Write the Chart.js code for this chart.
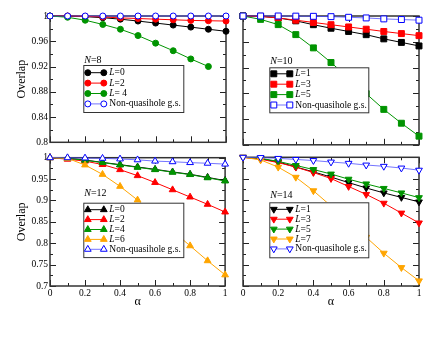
<!DOCTYPE html>
<html>
<head>
<meta charset="utf-8">
<script src="https://cdn.jsdelivr.net/npm/chart.js@4.4.0/dist/chart.umd.min.js"></script>
<style>
    html, body { margin: 0; padding: 0; background: #fff; }
    #wrap { position: relative; width: 436px; height: 337px; }
    #wrap canvas { position: absolute; }
</style>
</head>
<body>
<div id="wrap">
    <canvas id="n8" width="230" height="150" style="left:0;top:0"></canvas>
    <canvas id="n10" width="206" height="150" style="left:230px;top:0"></canvas>
    <canvas id="n12" width="230" height="187" style="left:0;top:150px"></canvas>
    <canvas id="n14" width="206" height="187" style="left:230px;top:150px"></canvas>
</div>
<script>
const alpha = [0, 0.1, 0.2, 0.3, 0.4, 0.5, 0.6, 0.7, 0.8, 0.9, 1];

// N=8
const n8L0 = [1, 0.9998, 0.999, 0.9973, 0.995, 0.992, 0.9888, 0.9856, 0.9824, 0.979, 0.9758];
const n8L2 = [1, 1, 0.9995, 0.9985, 0.997, 0.996, 0.995, 0.994, 0.993, 0.9925, 0.992];
const n8L4 = [1, 0.998, 0.9933, 0.9866, 0.979, 0.969, 0.957, 0.945, 0.932, 0.92];
const n8Gs = [1, 1, 1, 1, 1, 1, 1, 1, 1, 1, 1];
const labels8 = ['L=0', 'L=2', 'L= 4', 'Non-quasihole g.s.'];

// N=10
const n10L1 = [1, 0.9995, 0.997, 0.9925, 0.9865, 0.981, 0.976, 0.971, 0.9645, 0.959, 0.9535];
const n10L3 = [1, 0.9993, 0.997, 0.9935, 0.99, 0.9865, 0.983, 0.9795, 0.976, 0.9727, 0.9695];
const n10L5 = [1, 0.9948, 0.9866, 0.9711, 0.9505, 0.9278, 0.9036, 0.8794, 0.855, 0.8335, 0.8134];
const n10Gs = [1, 1, 1, 0.9998, 0.9995, 0.999, 0.998, 0.997, 0.9955, 0.9945, 0.9935];
const labels10 = ['L=1', 'L=3', 'L=5', 'Non-quasihole g.s.'];

// N=12
const n12L0 = [1, 0.9988, 0.9945, 0.989, 0.9838, 0.9783, 0.9728, 0.9668, 0.9612, 0.954, 0.9465];
const n12L2 = [1, 0.9965, 0.992, 0.984, 0.972, 0.958, 0.942, 0.925, 0.908, 0.891, 0.873];
const n12L4 = [1, 0.9985, 0.994, 0.9885, 0.983, 0.9775, 0.972, 0.966, 0.9605, 0.953, 0.9455];
const n12L6 = [1, 0.9985, 0.983, 0.961, 0.933, 0.901, 0.866, 0.829, 0.794, 0.759, 0.726];
const n12Gs = [1, 0.9999, 0.9992, 0.9985, 0.997, 0.995, 0.992, 0.9905, 0.9885, 0.987, 0.985];
const labels12 = ['L=0', 'L=2', 'L=4', 'L=6', 'Non-quasihole g.s.'];

// N=14
const n14L1 = [1, 0.997, 0.989, 0.9775, 0.966, 0.954, 0.941, 0.9285, 0.917, 0.9065, 0.896];
const n14L3 = [1, 0.9955, 0.9876, 0.977, 0.9645, 0.9505, 0.932, 0.9135, 0.893, 0.87, 0.847];
const n14L5 = [1, 0.9975, 0.9905, 0.981, 0.9715, 0.961, 0.949, 0.938, 0.9275, 0.917, 0.906];
const n14L7 = [1, 0.994, 0.977, 0.9535, 0.922, 0.8865, 0.85, 0.8135, 0.7765, 0.743, 0.712];
const n14Gs = [1, 0.9995, 0.9975, 0.995, 0.9925, 0.989, 0.986, 0.982, 0.979, 0.975, 0.97];
const labels14 = ['L=1', 'L=3', 'L=5', 'L=7', 'Non-quasihole g.s.'];

const FONT = '"Liberation Serif", "Times New Roman", serif';
Chart.defaults.font.family = FONT;
Chart.defaults.color = '#000';

const BLACK = '#000000', RED = '#ff0000', GREEN = '#009400', ORANGE = '#ffa500', BLUE = '#0000ff';

const fmt = v => String(+Number(v).toFixed(3));

// marker shapes per panel
const shapes = {
    circle: { pointStyle: 'circle', r: 3, rot: 0 },
    square: { pointStyle: 'rect', r: 4.2, rot: 0 },
    up: { pointStyle: 'triangle', r: 3.9, rot: 0 },
    down: { pointStyle: 'triangle', r: 3.9, rot: 180 }
};

function series(label, values, color, shape, open, i) {
    const s = shapes[shape];
    return {
        label: label,
        data: values.map((v, k) => ({ x: alpha[k], y: v })),
        borderColor: open ? 'rgba(70,70,255,0.75)' : color,
        borderWidth: 1,
        pointStyle: s.pointStyle,
        pointRotation: s.rot,
        pointRadius: s.r,
        pointHoverRadius: s.r,
        pointBorderWidth: 1,
        pointBackgroundColor: open ? '#ffffff' : color,
        pointBorderColor: color,
        tension: 0,
        clip: false,
        order: -i
    };
}

// box frame with inward major / minor ticks on all four sides
const frameTicks = {
    id: 'frameTicks',
    beforeDatasetsDraw(chart) {
        const { ctx, chartArea: a, scales } = chart;
        ctx.save();
        ctx.strokeStyle = '#222';
        ctx.lineWidth = 1;
        const marks = (scale) => {
            const vals = scale.ticks.map(t => t.value);
            const out = vals.map(v => ({ v: v, len: 6 }));
            for (let k = 0; k < vals.length - 1; k++) {
                out.push({ v: (vals[k] + vals[k + 1]) / 2, len: 3 });
            }
            return out;
        };
        ctx.beginPath();
        marks(scales.x).forEach(m => {
            const px = Math.round(scales.x.getPixelForValue(m.v)) + 0.5;
            ctx.moveTo(px, a.bottom); ctx.lineTo(px, a.bottom - m.len);
            ctx.moveTo(px, a.top); ctx.lineTo(px, a.top + m.len);
        });
        marks(scales.y).forEach(m => {
            const py = Math.round(scales.y.getPixelForValue(m.v)) + 0.5;
            ctx.moveTo(a.left, py); ctx.lineTo(a.left + m.len, py);
            ctx.moveTo(a.right, py); ctx.lineTo(a.right - m.len, py);
        });
        ctx.stroke();
        ctx.lineWidth = 1.5;
        ctx.strokeStyle = '#333';
        ctx.strokeRect(a.left, a.top, a.right - a.left, a.bottom - a.top);
        ctx.restore();
    }
};

// boxed legend with the N= caption above it
const boxLegend = {
    id: 'boxLegend',
    afterDatasetsDraw(chart, args, o) {
        const { ctx, chartArea: a } = chart;
        const bx = a.left + o.dx, by = a.top + o.dy;
        ctx.save();
        ctx.textBaseline = 'middle';
        ctx.textAlign = 'left';
        ctx.fillStyle = '#000';
        ctx.font = 'italic 10px ' + FONT;
        ctx.fillText('N', bx + 1, by + o.nDy);
        const nw = ctx.measureText('N').width;
        ctx.font = '10px ' + FONT;
        ctx.fillText('=' + o.n, bx + 1 + nw, by + o.nDy);

        ctx.fillStyle = '#fff';
        ctx.fillRect(bx, by, o.w, o.h);
        ctx.strokeStyle = '#333';
        ctx.lineWidth = 1;
        ctx.strokeRect(bx + 0.5, by + 0.5, o.w, o.h);

        chart.data.datasets.forEach((ds, i) => {
            const y = by + o.row0 + i * o.rowH;
            const x1 = bx + 4.5, x2 = bx + 20.5;
            ctx.strokeStyle = ds.borderColor;
            ctx.lineWidth = 1;
            ctx.beginPath(); ctx.moveTo(x1, y); ctx.lineTo(x2, y); ctx.stroke();
            ctx.fillStyle = ds.pointBackgroundColor;
            ctx.strokeStyle = ds.pointBorderColor;
            const ps = { pointStyle: ds.pointStyle, rotation: ds.pointRotation, radius: ds.pointRadius, borderWidth: 1 };
            Chart.helpers.drawPoint(ctx, ps, x1, y);
            Chart.helpers.drawPoint(ctx, ps, x2, y);

            ctx.fillStyle = '#000';
            let tx = bx + 26;
            let text = ds.label;
            if (text.charAt(0) === 'L') {
                ctx.font = 'italic 9.5px ' + FONT;
                ctx.fillText('L', tx, y);
                tx += ctx.measureText('L').width;
                text = text.slice(1);
            }
            ctx.font = '9.5px ' + FONT;
            ctx.fillText(text, tx, y);
        });
        ctx.restore();
    }
};

function makePanel(id, datasets, p) {
    const tickFont = { size: 9.5, family: FONT };
    const titleFont = { size: 12, family: FONT, lineHeight: 1.2 };
    return new Chart(document.getElementById(id), {
        type: 'line',
        data: { datasets: datasets },
        plugins: [frameTicks, boxLegend],
        options: {
            responsive: false,
            animation: false,
            events: [],
            layout: { padding: { top: p.top, right: p.right, left: 0, bottom: 0 } },
            scales: {
                x: {
                    type: 'linear', min: 0, max: 1,
                    grid: { display: false, drawTicks: false },
                    border: { display: false },
                    ticks: { display: p.xLabels, stepSize: 0.2, padding: 2, font: tickFont, callback: fmt, maxRotation: 0 },
                    title: { display: p.xLabels, text: 'α', font: titleFont, padding: { top: 0, bottom: 27.8 } },
                    afterFit: s => { s.height = p.xLabels ? 51 : 5; }
                },
                y: {
                    type: 'linear', min: p.ymin, max: 1,
                    grid: { display: false, drawTicks: false },
                    border: { display: false },
                    ticks: { display: p.yLabels, stepSize: p.ystep, padding: 2, font: tickFont, callback: fmt },
                    title: { display: p.yLabels, text: 'Overlap', font: titleFont, padding: { top: 14.5, bottom: 0 } },
                    afterFit: s => { s.width = p.yLabels ? 50 : 13; }
                }
            },
            plugins: {
                legend: { display: false },
                tooltip: { enabled: false },
                boxLegend: p.legend
            }
        }
    });
}

// N=8 panel (top left)
makePanel('n8', [
    series(labels8[0], n8L0, BLACK, 'circle', false, 0),
    series(labels8[1], n8L2, RED, 'circle', false, 1),
    series(labels8[2], n8L4, GREEN, 'circle', false, 2),
    series(labels8[3], n8Gs, BLUE, 'circle', true, 3)
], { top: 16, right: 4, xLabels: false, yLabels: true, ymin: 0.8, ystep: 0.04,
     legend: { n: 8, dx: 33.3, dy: 49, w: 100, h: 47, row0: 7.7, rowH: 10.4, nDy: -5 } });

// N=10 panel (top right)
makePanel('n10', [
    series(labels10[0], n10L1, BLACK, 'square', false, 0),
    series(labels10[1], n10L3, RED, 'square', false, 1),
    series(labels10[2], n10L5, GREEN, 'square', false, 2),
    series(labels10[3], n10Gs, BLUE, 'square', true, 3)
], { top: 16, right: 17, xLabels: false, yLabels: false, ymin: 0.8, ystep: 0.04,
     legend: { n: 10, dx: 26.3, dy: 51.3, w: 99, h: 45, row0: 6.5, rowH: 10.4, nDy: -6.3 } });

// N=12 panel (bottom left)
makePanel('n12', [
    series(labels12[0], n12L0, BLACK, 'up', false, 0),
    series(labels12[1], n12L2, RED, 'up', false, 1),
    series(labels12[2], n12L4, GREEN, 'up', false, 2),
    series(labels12[3], n12L6, ORANGE, 'up', false, 3),
    series(labels12[4], n12Gs, BLUE, 'up', true, 4)
], { top: 7.3, right: 4, xLabels: true, yLabels: true, ymin: 0.7, ystep: 0.05,
     legend: { n: 12, dx: 33.3, dy: 45, w: 100, h: 54.4, row0: 7, rowH: 9.9, nDy: -9 } });

// N=14 panel (bottom right)
makePanel('n14', [
    series(labels14[0], n14L1, BLACK, 'down', false, 0),
    series(labels14[1], n14L3, RED, 'down', false, 1),
    series(labels14[2], n14L5, GREEN, 'down', false, 2),
    series(labels14[3], n14L7, ORANGE, 'down', false, 3),
    series(labels14[4], n14Gs, BLUE, 'down', true, 4)
], { top: 7.3, right: 17, xLabels: true, yLabels: false, ymin: 0.7, ystep: 0.05,
     legend: { n: 14, dx: 26.3, dy: 45, w: 99, h: 55, row0: 7, rowH: 9.9, nDy: -7 } });
</script>
</body>
</html>
